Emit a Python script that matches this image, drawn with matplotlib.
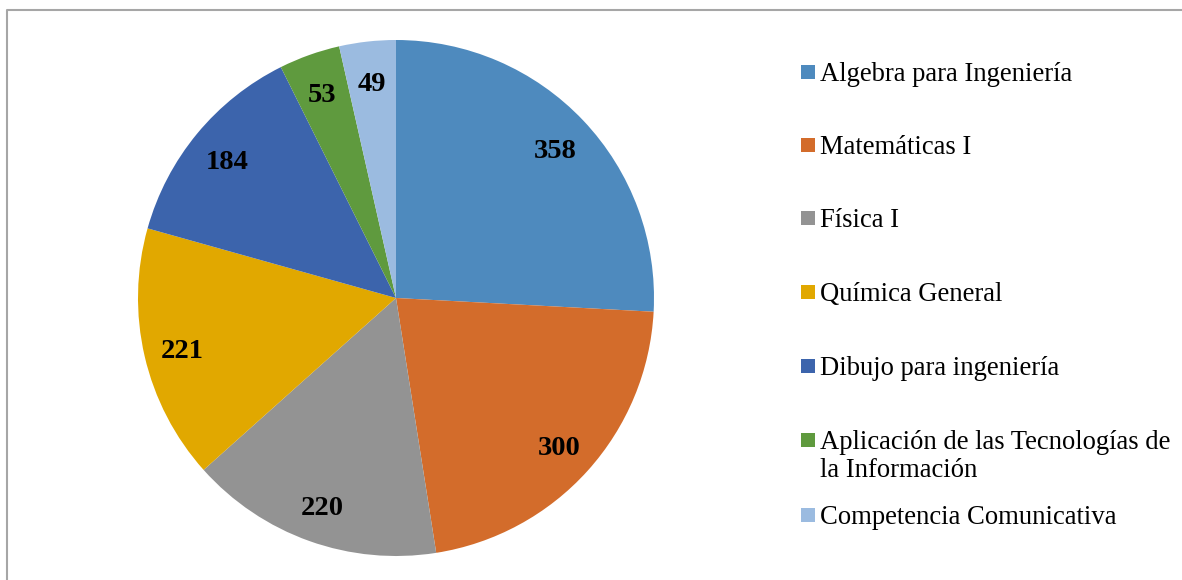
import matplotlib.pyplot as plt
import matplotlib.transforms as mtransforms
from matplotlib.lines import Line2D
from matplotlib.patches import Rectangle

# Data
subjects = ["Algebra para Ingeniería", "Matemáticas I", "Física I", "Química General",
            "Dibujo para ingeniería", "Aplicación de las Tecnologías de\nla Información",
            "Competencia Comunicativa"]
counts = [358, 300, 220, 221, 184, 53, 49]
colors = ["#4E8ABE", "#D36C2B", "#939393", "#E1A800", "#3C64AC", "#5F9A3E", "#9BBBE0"]

W, H = 1182, 580
plt.rcParams['font.family'] = ['Liberation Serif', 'DejaVu Serif']
fig = plt.figure(figsize=(W / 100, H / 100), dpi=100)

# pie centre (396, 298) px from top-left, radius 258 px
cx, cy, r = 396, 298, 258
ax = fig.add_axes([(cx - r) / W, (H - cy - r) / H, 2 * r / W, 2 * r / H])
total = sum(counts)
wedges, _, autotexts = ax.pie(counts, colors=colors, startangle=90, counterclock=False,
                              radius=1, pctdistance=0.85,
                              autopct=lambda p: f"{round(p * total / 100)}",
                              wedgeprops=dict(linewidth=0))
shift = mtransforms.ScaledTranslation(0, -4 / 100, fig.dpi_scale_trans)
for t in autotexts:
    t.set_fontsize(20.5)
    t.set_fontweight('bold')
    t.set_transform(t.get_transform() + shift)
ax.set_xlim(-1, 1)
ax.set_ylim(-1, 1)
ax.set_aspect('equal')
ax.axis('off')

# chart border (only top and left visible)
fig.add_artist(Line2D([7 / W, 7 / W, 1.0], [0.0, 1 - 10 / H, 1 - 10 / H],
                      transform=fig.transFigure, color="#A6A6A6", lw=1.5))

# legend, drawn by hand to follow the Excel layout
row_y = [72, 145, 218, 292, 366, 440, 515]
for label, col, y in zip(subjects, colors, row_y):
    fig.add_artist(Rectangle((801 / W, 1 - (y + 7) / H), 14 / W, 14 / H,
                             transform=fig.transFigure, color=col, lw=0))
    fig.text(820 / W, 1 - (y - 10) / H, label, fontsize=19.2, va='top', ha='left',
             linespacing=1.18)

fig.savefig("out.png", dpi=100)
